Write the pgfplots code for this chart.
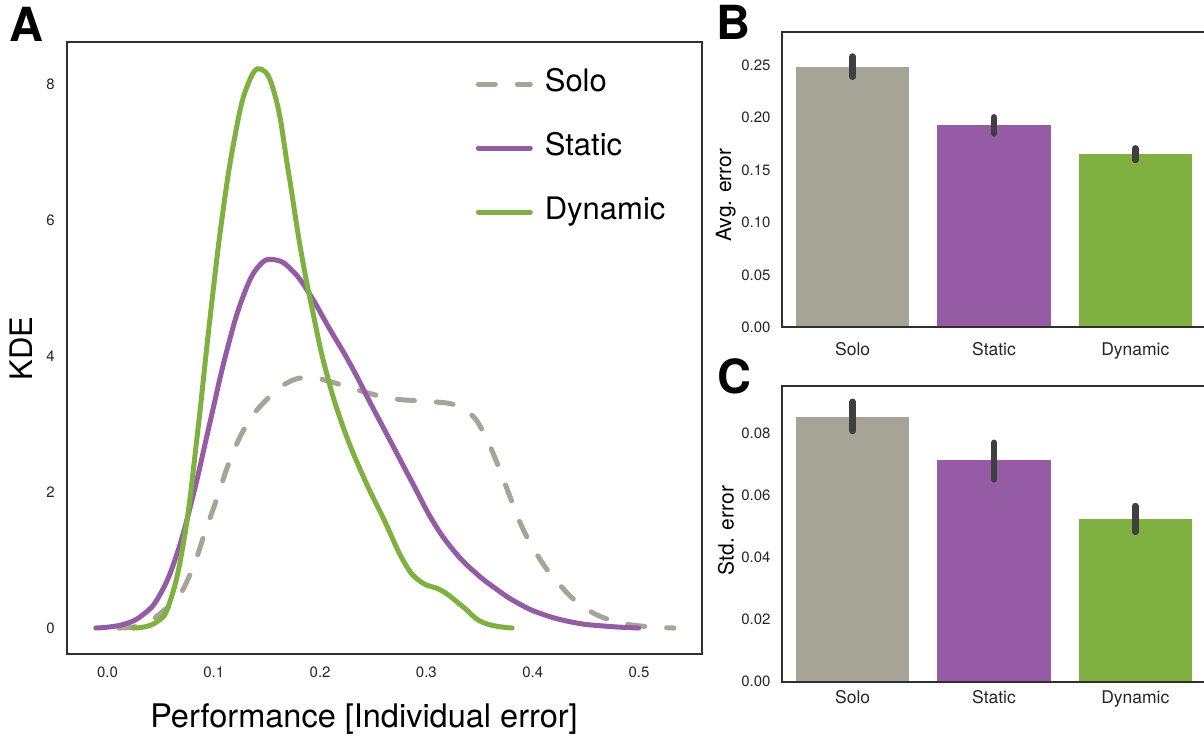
\documentclass[border=0pt]{standalone}
\usepackage{pgfplots}
\pgfplotsset{compat=1.18}
\usepackage{fontspec}
\setmainfont{TeX Gyre Heros}
\definecolor{solo}{HTML}{A6A497}
\definecolor{static}{HTML}{955BA5}
\definecolor{dynamic}{HTML}{7FB141}
\definecolor{spine}{HTML}{303030}
\definecolor{errc}{HTML}{3F3F3F}
\definecolor{tickc}{HTML}{262626}
\pgfplotsset{
  mystyle/.style={
    scale only axis,
    axis line style={spine, line width=2pt},
    major tick length=0pt, minor tick length=0pt,
    tick label style={font=\fontsize{15}{18}\selectfont, text=tickc, inner sep=0pt},
    /pgf/number format/assume math mode=true,
    label style={inner sep=0pt, text=black},
  },
  barstyle/.style={
    ybar, bar width=0.8, bar shift=0pt, draw=none,
    error bars/y dir=both, error bars/y explicit, error bars/error mark=none,
    error bars/error bar style={line width=6.5pt, errc, line cap=round},
  },
}
\begin{document}
\begin{tikzpicture}[x=1pt,y=1pt]
\useasboundingbox (0,0) rectangle (1204,738);

% Panel A
\begin{axis}[mystyle, at={(67pt,83.5pt)}, anchor=south west,
  width=635pt, height=612pt,
  xmin=-0.0381, xmax=0.5593, ymin=-0.39, ymax=8.623,
  xtick={0,0.1,0.2,0.3,0.4,0.5}, ytick={0,2,4,6,8},
  xticklabel style={anchor=base, yshift=-23pt, /pgf/number format/.cd, fixed, fixed zerofill, precision=1},
  yticklabel style={anchor=east, xshift=-12pt},
  xlabel={Performance [Individual error]}, ylabel={KDE},
  xlabel style={at={([yshift=-73pt]axis description cs:0.4677,0)}, anchor=base, font=\fontsize{32.5}{36}\selectfont},
  ylabel style={at={([xshift=-34.5pt]axis description cs:0,0.5)}, anchor=base, font=\fontsize{31}{36}\selectfont},
  legend style={at={(0.6435,0.956)}, anchor=north west, draw=none, fill=none, inner sep=0pt,
    font=\fontsize{31}{36}\selectfont, row sep=35pt, column sep=12pt,
    nodes={inner sep=0pt, text height=22pt, text depth=7pt}},
  legend cell align=left,
  legend image code/.code={\draw[#1, line cap=round] (0pt,0pt) -- (52pt,0pt);},
]
\addplot[solo, line width=5pt, line cap=round, dash pattern=on 17pt off 22pt, smooth, tension=0.75] coordinates {
(0.0103,0) (0.0337,0.05) (0.0532,0.26) (0.0669,0.46) (0.0805,0.90) (0.0922,1.43)
(0.1039,1.95) (0.1155,2.48) (0.1312,3.00) (0.1507,3.38) (0.1702,3.62) (0.1897,3.69)
(0.2092,3.63) (0.2365,3.50) (0.2676,3.38) (0.2988,3.34) (0.3262,3.29) (0.3418,3.15)
(0.3534,2.89) (0.3652,2.48) (0.3768,2.01) (0.3885,1.54) (0.4041,1.08) (0.4236,0.67)
(0.4470,0.32) (0.4743,0.11) (0.5016,0.03) (0.5328,0)
};
\addlegendentry{Solo}
\addplot[static, line width=5pt, line cap=round, smooth, tension=0.75] coordinates {
(-0.011,0) (0.0142,0.05) (0.0337,0.20) (0.0493,0.49) (0.0649,1.07) (0.0805,1.95)
(0.0960,3.00) (0.1117,4.05) (0.1273,4.87) (0.1429,5.34) (0.1585,5.42) (0.1741,5.26)
(0.1897,4.93) (0.2092,4.40) (0.2286,3.88) (0.2481,3.29) (0.2676,2.71) (0.2871,2.13)
(0.3066,1.56) (0.3262,1.13) (0.3457,0.82) (0.3652,0.58) (0.3846,0.38) (0.4080,0.21)
(0.4392,0.08) (0.4704,0.025) (0.4996,0)
};
\addlegendentry{Static}
\addplot[dynamic, line width=5pt, line cap=round, smooth, tension=0.75] coordinates {
(0.0239,0) (0.0454,0.08) (0.0590,0.40) (0.0727,1.37) (0.0844,2.83) (0.0960,4.50)
(0.1078,6.04) (0.1195,7.21) (0.1312,7.97) (0.1448,8.23) (0.1585,7.79) (0.1700,6.74)
(0.1818,5.57) (0.1936,4.62) (0.2053,3.80) (0.2208,3.00) (0.2404,2.24) (0.2600,1.60)
(0.2794,0.96) (0.2949,0.68) (0.3145,0.55) (0.3339,0.32) (0.3534,0.08) (0.3807,0)
};
\addlegendentry{Dynamic}
\end{axis}

% Panel B
\begin{axis}[mystyle, axis on top, at={(782pt,410.7pt)}, anchor=south west,
  width=424pt, height=295pt,
  xmin=-0.5, xmax=2.5, ymin=0, ymax=0.2812,
  xtick={0,1,2}, xticklabels={Solo,Static,Dynamic},
  xticklabel style={anchor=base, yshift=-28pt, font=\fontsize{17.5}{20}\selectfont},
  ytick={0,0.05,0.1,0.15,0.2,0.25}, scaled y ticks=false,
  yticklabel style={anchor=east, xshift=-11.3pt, /pgf/number format/.cd, fixed, fixed zerofill, precision=2},
  ylabel={Avg. error},
  ylabel style={at={([xshift=-51pt]axis description cs:0,0.4485)}, anchor=base, font=\fontsize{21}{24}\selectfont},
]
\addplot[fill=solo, barstyle] coordinates {(0,0.2481) += (0,0.0100) -= (0,0.0093)};
\addplot[fill=static, barstyle] coordinates {(1,0.1929) += (0,0.0073) -= (0,0.0081)};
\addplot[fill=dynamic, barstyle] coordinates {(2,0.1652) += (0,0.0054) -= (0,0.0057)};
\end{axis}

% Panel C
\begin{axis}[mystyle, axis on top, at={(782pt,56.3pt)}, anchor=south west,
  width=424pt, height=295.4pt,
  xmin=-0.5, xmax=2.5, ymin=0, ymax=0.0952,
  xtick={0,1,2}, xticklabels={Solo,Static,Dynamic},
  xticklabel style={anchor=base, yshift=-22.3pt, font=\fontsize{17.5}{20}\selectfont},
  ytick={0,0.02,0.04,0.06,0.08}, scaled y ticks=false,
  yticklabel style={anchor=east, xshift=-11.3pt, /pgf/number format/.cd, fixed, fixed zerofill, precision=2},
  ylabel={Std. error},
  ylabel style={at={([xshift=-48.5pt]axis description cs:0,0.512)}, anchor=base, font=\fontsize{21}{24}\selectfont},
]
\addplot[fill=solo, barstyle] coordinates {(0,0.0852) += (0,0.0050) -= (0,0.0044)};
\addplot[fill=static, barstyle] coordinates {(1,0.0714) += (0,0.0056) -= (0,0.0062)};
\addplot[fill=dynamic, barstyle] coordinates {(2,0.0523) += (0,0.0043) -= (0,0.0040)};
\end{axis}

\node[anchor=base west, inner sep=0pt, font=\fontsize{47}{50}\selectfont\bfseries] at (9,696) {A};
\node[anchor=base west, inner sep=0pt, font=\fontsize{47}{50}\selectfont\bfseries] at (716,698) {B};
\node[anchor=base west, inner sep=0pt, font=\fontsize{47}{50}\selectfont\bfseries] at (717,344) {C};
\end{tikzpicture}
\end{document}
